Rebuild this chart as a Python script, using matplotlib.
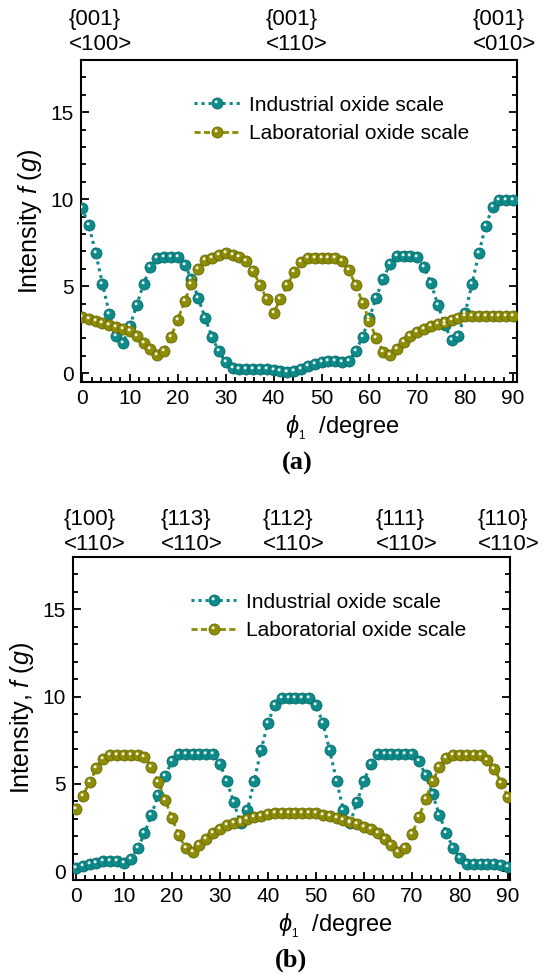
import numpy as np
import matplotlib
matplotlib.use("Agg")
import matplotlib.pyplot as plt
from matplotlib.path import Path
from matplotlib.legend_handler import HandlerTuple

plt.rcParams['font.family'] = ['Liberation Sans', 'DejaVu Sans']
plt.rcParams['mathtext.fontset'] = 'custom'
plt.rcParams['mathtext.rm'] = 'Liberation Sans'
plt.rcParams['mathtext.it'] = 'Liberation Sans:italic'

# ---------------- data ----------------
phi1 = np.linspace(0, 90, 64)

a_industrial = [9.52, 8.5, 6.92, 5.13, 3.43, 2.13, 1.72, 2.72, 3.91, 5.13,
                6.11, 6.65, 6.69, 6.69, 6.69, 6.25, 5.42, 4.31, 3.16, 2.09,
                1.26, 0.65, 0.33, 0.27, 0.27, 0.27, 0.27, 0.27, 0.19, 0.13,
                0.06, 0.13, 0.23, 0.4, 0.56, 0.65, 0.73, 0.73, 0.65, 0.69,
                1.26, 2.11, 3.2, 4.35, 5.44, 6.26, 6.72, 6.72, 6.72, 6.69,
                6.11, 5.17, 3.93, 2.8, 1.9, 2.16, 3.49, 5.15, 6.93, 8.49,
                9.56, 9.94, 9.94, 9.94]
a_laboratorial = [3.24, 3.14, 3.0, 2.89, 2.8, 2.66, 2.57, 2.43, 2.13, 1.76,
                  1.42, 1.03, 1.28, 2.09, 3.08, 4.14, 5.15, 5.98, 6.49, 6.65,
                  6.78, 6.92, 6.82, 6.69, 6.44, 5.88, 5.1, 4.25, 3.49, 4.25,
                  5.06, 5.82, 6.4, 6.61, 6.63, 6.63, 6.63, 6.63, 6.44, 5.92,
                  5.06, 4.06, 2.99, 2.01, 1.25, 1.05, 1.42, 1.8, 2.13, 2.38,
                  2.55, 2.7, 2.82, 2.95, 3.08, 3.2, 3.28, 3.3, 3.3, 3.3,
                  3.3, 3.3, 3.3, 3.3]
b_industrial = [0.21, 0.3, 0.4, 0.5, 0.57, 0.61, 0.57, 0.46, 0.72, 1.31,
                2.17, 3.22, 4.38, 5.47, 6.29, 6.72, 6.72, 6.72, 6.72, 6.72,
                6.69, 6.15, 5.18, 3.96, 2.74, 3.5, 5.18, 6.97, 8.5, 9.54,
                9.92, 9.92, 9.92, 9.92, 9.92, 9.54, 8.5, 6.93, 5.18, 3.49,
                2.78, 3.98, 5.18, 6.15, 6.7, 6.74, 6.74, 6.74, 6.74, 6.74,
                6.3, 5.49, 4.4, 3.22, 2.19, 1.31, 0.74, 0.42, 0.4, 0.4,
                0.4, 0.4, 0.38, 0.27]
b_laboratorial = [3.54, 4.3, 5.12, 5.89, 6.44, 6.67, 6.67, 6.67, 6.67, 6.67,
                  6.53, 6.0, 5.14, 4.11, 3.05, 2.08, 1.31, 1.1, 1.5, 1.83,
                  2.17, 2.44, 2.63, 2.78, 2.88, 2.99, 3.09, 3.18, 3.26, 3.31,
                  3.35, 3.35, 3.35, 3.35, 3.35, 3.31, 3.24, 3.16, 3.07, 2.95,
                  2.82, 2.69, 2.55, 2.4, 2.17, 1.83, 1.49, 1.1, 1.31, 2.11,
                  3.1, 4.15, 5.16, 5.98, 6.5, 6.67, 6.67, 6.67, 6.67, 6.67,
                  6.4, 5.87, 5.07, 4.25]

series_labels = ["Industrial oxide scale", "Laboratorial oxide scale"]
a_top_planes = ["{001}", "{001}", "{001}"]
a_top_dirs = ["<100>", "<110>", "<010>"]
b_top_planes = ["{100}", "{113}", "{112}", "{111}", "{110}"]
b_top_dirs = ["<110>", "<110>", "<110>", "<110>", "<110>"]

# ---------------- style ----------------
W, H = 546, 975
TEAL, TEAL_E = '#0d8a8a', '#056464'
OLIVE, OLIVE_E = '#8c8c06', '#606000'
MS = 8.0

# highlight marker: small circle offset to the upper-left of the ball
_hl = Path.circle(center=(-0.25, 0.3), radius=0.27)
_frame = Path([(1, 1), (-1, -1)], [Path.MOVETO, Path.MOVETO])
HL_MARKER = Path.make_compound_path(_frame, _hl)


def fx(px):
    return px / W


def fy(py):
    return 1 - py / H


fig = plt.figure(figsize=(W / 100, H / 100), dpi=100)


def draw_panel(ax, ind, lab, ylabel, xlim, legend_anchor):
    l1, = ax.plot(phi1, ind, ls=(0, (1.0, 1.3)), lw=2.2, color=TEAL,
                  marker='o', ms=MS, mfc=TEAL, mec=TEAL_E, mew=0.5, zorder=3)
    h1, = ax.plot(phi1, ind, ls='none', marker=HL_MARKER, ms=MS,
                  mfc='#e8f4f4', mec='none', zorder=4)
    l2, = ax.plot(phi1, lab, ls=(0, (2.2, 1.2)), lw=2.0, color=OLIVE,
                  marker='o', ms=MS, mfc=OLIVE, mec=OLIVE_E, mew=0.5, zorder=3)
    h2, = ax.plot(phi1, lab, ls='none', marker=HL_MARKER, ms=MS,
                  mfc='#f4f4e0', mec='none', zorder=4)
    ax.set_xlim(*xlim)
    ax.set_ylim(-0.5, 18)
    ax.set_xticks(np.arange(0, 91, 10))
    ax.set_xticks(np.arange(0, 91, 2), minor=True)
    ax.set_yticks([0, 5, 10, 15])
    ax.set_yticks(np.arange(0, 18, 1), minor=True)
    ax.tick_params(which='both', direction='in', right=True, top=False,
                   labelsize=15, width=1.3)
    ax.tick_params(which='major', length=6)
    ax.tick_params(which='minor', length=3.5)
    ax.tick_params(axis='x', pad=5)
    ax.tick_params(axis='y', pad=5)
    for s in ax.spines.values():
        s.set_linewidth(1.5)
    ax.set_ylabel(ylabel, fontsize=18, labelpad=5)
    ax.set_xlabel(r'$\phi_{_1}$  /degree', fontsize=17)
    ax.xaxis.set_label_coords(0.6, -0.098)
    ax.legend([(l1, h1), (l2, h2)], series_labels,
              handler_map={tuple: HandlerTuple(ndivide=1, pad=0)},
              loc='upper left', bbox_to_anchor=legend_anchor, frameon=False,
              fontsize=15, handlelength=2.2, handletextpad=0.45,
              labelspacing=0.45, borderaxespad=0)


ax1 = fig.add_axes([fx(81), fy(382), fx(517) - fx(81), fy(60) - fy(382)])
draw_panel(ax1, a_industrial, a_laboratorial, r'Intensity $f$ ($g$)',
           (-0.2, 90.8), (0.24, 0.915))

ax2 = fig.add_axes([fx(73), fy(880), fx(510) - fx(73), fy(557) - fy(880)])
draw_panel(ax2, b_industrial, b_laboratorial, r'Intensity, $f$ ($g$)',
           (-0.6, 90.4), (0.25, 0.915))

# orientation labels above the panels
for px, p, d in zip([69, 266, 473], a_top_planes, a_top_dirs):
    fig.text(fx(px), fy(19), p, fontsize=16, ha='left', va='center')
    fig.text(fx(px), fy(45), d, fontsize=16, ha='left', va='center')
for px, p, d in zip([64, 161, 263, 376, 478], b_top_planes, b_top_dirs):
    fig.text(fx(px), fy(519), p, fontsize=16, ha='left', va='center')
    fig.text(fx(px), fy(545), d, fontsize=16, ha='left', va='center')

fig.text(fx(297), fy(463), '(a)', fontsize=19, fontweight='bold',
         family='Liberation Serif', ha='center', va='center')
fig.text(fx(291), fy(960), '(b)', fontsize=19, fontweight='bold',
         family='Liberation Serif', ha='center', va='center')

fig.savefig('out.png', dpi=100)
